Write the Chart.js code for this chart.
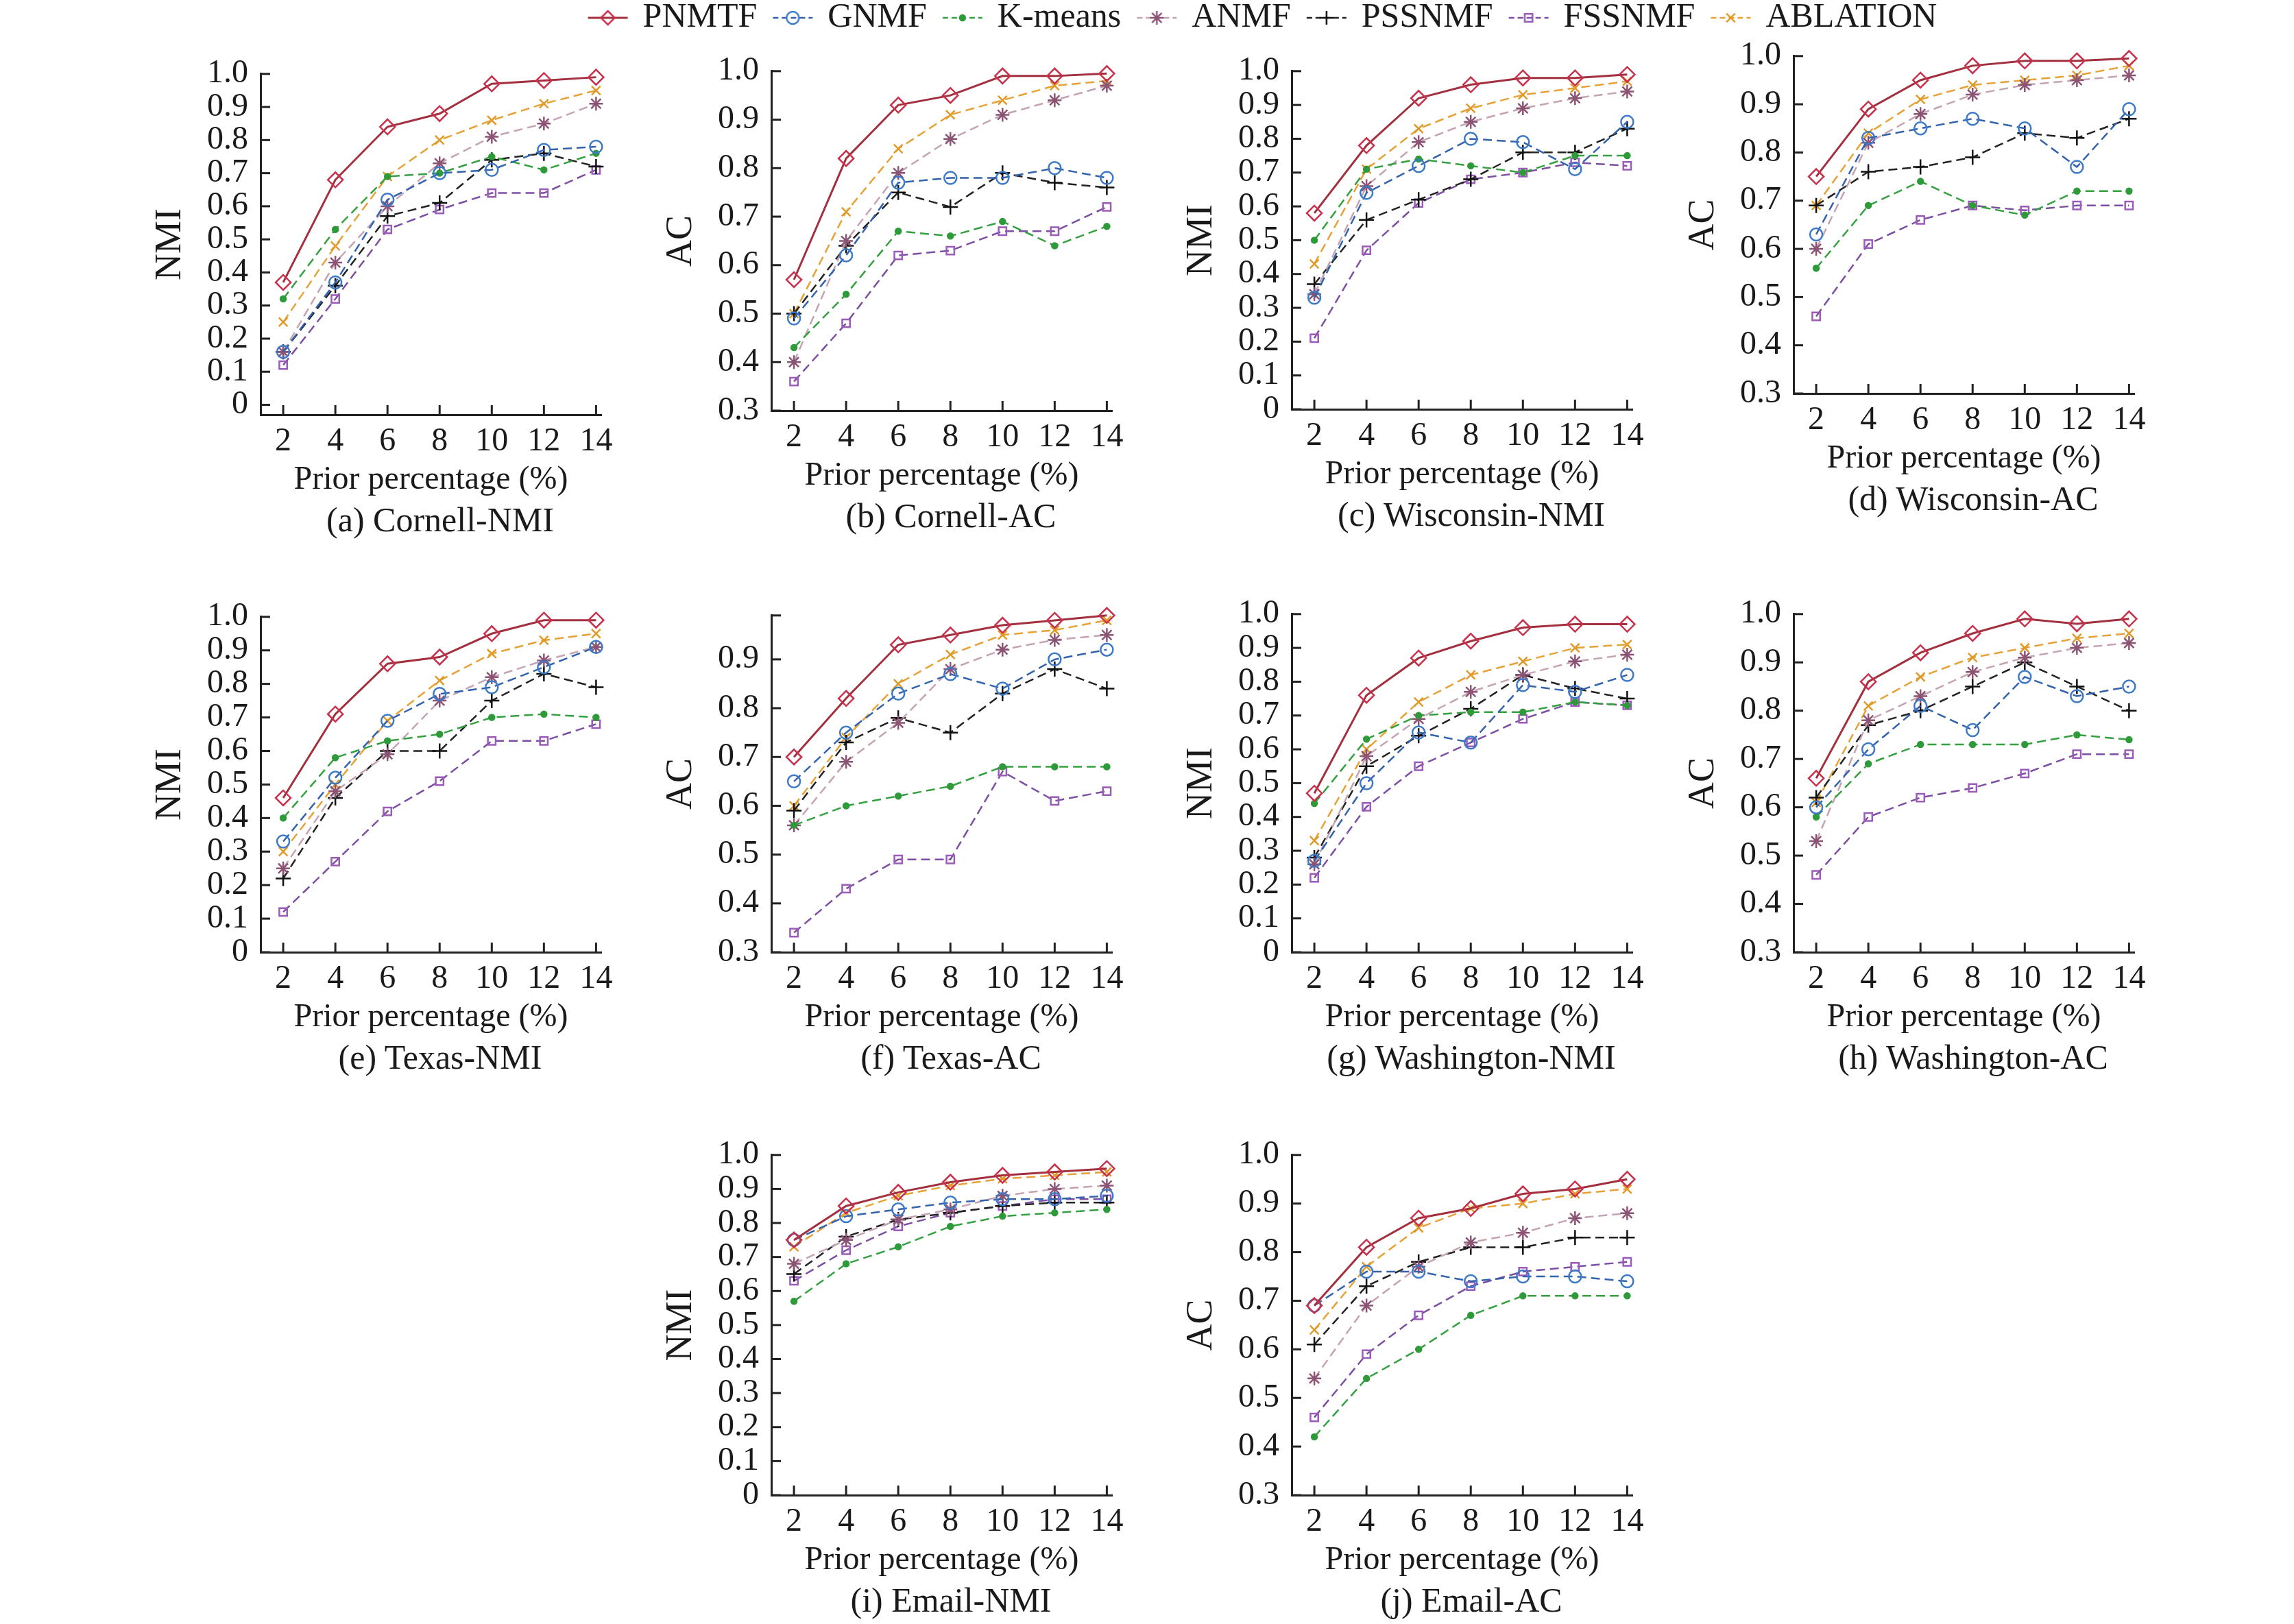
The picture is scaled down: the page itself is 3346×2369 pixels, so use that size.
<!DOCTYPE html>
<html>
<head>
<meta charset="utf-8">
<script src="https://cdn.jsdelivr.net/npm/chart.js@4.4.1/dist/chart.umd.min.js"></script>
<style>
  body { margin: 0; background: #fff; width: 3346px; height: 2369px; position: relative; overflow: hidden; }
  .box { position: absolute; }
  .cap { position: absolute; font: 50px "Liberation Serif", serif; color: #1a1a1a; transform: translate(-50%, -50%); white-space: nowrap; }
</style>
</head>
<body>
<div class="box" id="legendBox"><canvas id="legend"></canvas></div>
<script>
// x values and series names
const percentages = [2, 4, 6, 8, 10, 12, 14];
const methods = ["PNMTF", "GNMF", "K-means", "ANMF", "PSSNMF", "FSSNMF", "ABLATION"];
const nmiTicks = [0, 0.1, 0.2, 0.3, 0.4, 0.5, 0.6, 0.7, 0.8, 0.9, 1.0];
const acTicks = [0.3, 0.4, 0.5, 0.6, 0.7, 0.8, 0.9, 1.0];
const texasAcTicks = [0.3, 0.4, 0.5, 0.6, 0.7, 0.8, 0.9, 0.99];

// one row per method, in the order of `methods`
const cornellNMI = [
  [0.37, 0.68, 0.84, 0.88, 0.97, 0.98, 0.99],
  [0.16, 0.37, 0.62, 0.70, 0.71, 0.77, 0.78],
  [0.32, 0.53, 0.69, 0.70, 0.75, 0.71, 0.76],
  [0.16, 0.43, 0.60, 0.73, 0.81, 0.85, 0.91],
  [0.16, 0.36, 0.57, 0.61, 0.74, 0.76, 0.72],
  [0.12, 0.32, 0.53, 0.59, 0.64, 0.64, 0.71],
  [0.25, 0.48, 0.69, 0.80, 0.86, 0.91, 0.95]
];
const cornellAC = [
  [0.57, 0.82, 0.93, 0.95, 0.99, 0.99, 0.995],
  [0.49, 0.62, 0.77, 0.78, 0.78, 0.80, 0.78],
  [0.43, 0.54, 0.67, 0.66, 0.69, 0.64, 0.68],
  [0.40, 0.65, 0.79, 0.86, 0.91, 0.94, 0.97],
  [0.50, 0.64, 0.75, 0.72, 0.79, 0.77, 0.76],
  [0.36, 0.48, 0.62, 0.63, 0.67, 0.67, 0.72],
  [0.50, 0.71, 0.84, 0.91, 0.94, 0.97, 0.98]
];
const wisconsinNMI = [
  [0.58, 0.78, 0.92, 0.96, 0.98, 0.98, 0.99],
  [0.33, 0.64, 0.72, 0.80, 0.79, 0.71, 0.85],
  [0.50, 0.71, 0.74, 0.72, 0.70, 0.75, 0.75],
  [0.34, 0.66, 0.79, 0.85, 0.89, 0.92, 0.94],
  [0.37, 0.56, 0.62, 0.68, 0.76, 0.76, 0.83],
  [0.21, 0.47, 0.61, 0.68, 0.70, 0.73, 0.72],
  [0.43, 0.71, 0.83, 0.89, 0.93, 0.95, 0.97]
];
const wisconsinAC = [
  [0.75, 0.89, 0.95, 0.98, 0.99, 0.99, 0.995],
  [0.63, 0.83, 0.85, 0.87, 0.85, 0.77, 0.89],
  [0.56, 0.69, 0.74, 0.69, 0.67, 0.72, 0.72],
  [0.60, 0.82, 0.88, 0.92, 0.94, 0.95, 0.96],
  [0.69, 0.76, 0.77, 0.79, 0.84, 0.83, 0.87],
  [0.46, 0.61, 0.66, 0.69, 0.68, 0.69, 0.69],
  [0.69, 0.84, 0.91, 0.94, 0.95, 0.96, 0.98]
];
const texasNMI = [
  [0.46, 0.71, 0.86, 0.88, 0.95, 0.99, 0.99],
  [0.33, 0.52, 0.69, 0.77, 0.79, 0.85, 0.91],
  [0.40, 0.58, 0.63, 0.65, 0.70, 0.71, 0.70],
  [0.25, 0.48, 0.59, 0.75, 0.82, 0.87, 0.91],
  [0.22, 0.46, 0.60, 0.60, 0.75, 0.83, 0.79],
  [0.12, 0.27, 0.42, 0.51, 0.63, 0.63, 0.68],
  [0.30, 0.50, 0.69, 0.81, 0.89, 0.93, 0.95]
];
const texasAC = [
  [0.70, 0.82, 0.93, 0.95, 0.97, 0.98, 0.99],
  [0.65, 0.75, 0.83, 0.87, 0.84, 0.90, 0.92],
  [0.56, 0.60, 0.62, 0.64, 0.68, 0.68, 0.68],
  [0.56, 0.69, 0.77, 0.88, 0.92, 0.94, 0.95],
  [0.59, 0.73, 0.78, 0.75, 0.83, 0.88, 0.84],
  [0.34, 0.43, 0.49, 0.49, 0.67, 0.61, 0.63],
  [0.60, 0.74, 0.85, 0.91, 0.95, 0.96, 0.98]
];
const washingtonNMI = [
  [0.47, 0.76, 0.87, 0.92, 0.96, 0.97, 0.97],
  [0.27, 0.50, 0.65, 0.62, 0.79, 0.77, 0.82],
  [0.44, 0.63, 0.70, 0.71, 0.71, 0.74, 0.73],
  [0.26, 0.58, 0.69, 0.77, 0.82, 0.86, 0.88],
  [0.28, 0.55, 0.64, 0.72, 0.82, 0.78, 0.75],
  [0.22, 0.43, 0.55, 0.62, 0.69, 0.74, 0.73],
  [0.33, 0.60, 0.74, 0.82, 0.86, 0.90, 0.91]
];
const washingtonAC = [
  [0.66, 0.86, 0.92, 0.96, 0.99, 0.98, 0.99],
  [0.60, 0.72, 0.81, 0.76, 0.87, 0.83, 0.85],
  [0.58, 0.69, 0.73, 0.73, 0.73, 0.75, 0.74],
  [0.53, 0.78, 0.83, 0.88, 0.91, 0.93, 0.94],
  [0.62, 0.77, 0.80, 0.85, 0.90, 0.85, 0.80],
  [0.46, 0.58, 0.62, 0.64, 0.67, 0.71, 0.71],
  [0.61, 0.81, 0.87, 0.91, 0.93, 0.95, 0.96]
];
const emailNMI = [
  [0.75, 0.85, 0.89, 0.92, 0.94, 0.95, 0.96],
  [0.75, 0.82, 0.84, 0.86, 0.87, 0.87, 0.88],
  [0.57, 0.68, 0.73, 0.79, 0.82, 0.83, 0.84],
  [0.68, 0.75, 0.81, 0.84, 0.88, 0.90, 0.91],
  [0.65, 0.76, 0.81, 0.83, 0.85, 0.86, 0.86],
  [0.63, 0.72, 0.79, 0.83, 0.85, 0.87, 0.87],
  [0.73, 0.83, 0.88, 0.91, 0.93, 0.94, 0.95]
];
const emailAC = [
  [0.69, 0.81, 0.87, 0.89, 0.92, 0.93, 0.95],
  [0.69, 0.76, 0.76, 0.74, 0.75, 0.75, 0.74],
  [0.42, 0.54, 0.60, 0.67, 0.71, 0.71, 0.71],
  [0.54, 0.69, 0.77, 0.82, 0.84, 0.87, 0.88],
  [0.61, 0.73, 0.78, 0.81, 0.81, 0.83, 0.83],
  [0.46, 0.59, 0.67, 0.73, 0.76, 0.77, 0.78],
  [0.64, 0.77, 0.85, 0.89, 0.90, 0.92, 0.93]
];

const FONT = "Liberation Serif";
Chart.defaults.font.family = FONT;
Chart.defaults.color = "#1a1a1a";

const seriesStyles = [
  { line: "#a3303f", marker: "#c8304c", fill: "rgba(0,0,0,0)", point: "rectRot", radius: 11, width: 3, dash: [] },
  { line: "#3463ad", marker: "#3c7ac8", fill: "rgba(0,0,0,0)", point: "circle", radius: 9, width: 2.5, dash: [13, 7] },
  { line: "#34a040", marker: "#2e9a3a", fill: "#2e9a3a", point: "circle", radius: 4, width: 2.5, dash: [13, 7] },
  { line: "#c4a4b4", marker: "#8c5474", fill: "rgba(0,0,0,0)", point: "star", radius: 10, width: 2.5, dash: [13, 7] },
  { line: "#222222", marker: "#111111", fill: "rgba(0,0,0,0)", point: "cross", radius: 11, width: 2.5, dash: [13, 7] },
  { line: "#7d4fa3", marker: "#9a5cb8", fill: "rgba(0,0,0,0)", point: "rect", radius: 8, width: 2.5, dash: [13, 7] },
  { line: "#e6a236", marker: "#e09a28", fill: "rgba(0,0,0,0)", point: "crossRot", radius: 9, width: 2.5, dash: [13, 7] }
];

// C = centre of the caption, top = y of axis max, bottom = y of x axis
const panels = [
  { rows: cornellNMI, cap: "(a) Cornell-NMI", title: "NMI", ticks: nmiTicks, min: -0.03, max: 1, C: 642, top: 91, bottom: 605 },
  { rows: cornellAC, cap: "(b) Cornell-AC", title: "AC", ticks: acTicks, min: 0.3, max: 1, C: 1387, top: 87, bottom: 599 },
  { rows: wisconsinNMI, cap: "(c) Wisconsin-NMI", title: "NMI", ticks: nmiTicks, min: 0, max: 1, C: 2146, top: 87, bottom: 597 },
  { rows: wisconsinAC, cap: "(d) Wisconsin-AC", title: "AC", ticks: acTicks, min: 0.3, max: 1, C: 2878, top: 65, bottom: 574 },
  { rows: texasNMI, cap: "(e) Texas-NMI", title: "NMI", ticks: nmiTicks, min: 0, max: 1, C: 642, top: 883, bottom: 1389 },
  { rows: texasAC, cap: "(f) Texas-AC", title: "AC", ticks: texasAcTicks, min: 0.3, max: 0.99, C: 1387, top: 881, bottom: 1389 },
  { rows: washingtonNMI, cap: "(g) Washington-NMI", title: "NMI", ticks: nmiTicks, min: 0, max: 1, C: 2146, top: 879, bottom: 1389 },
  { rows: washingtonAC, cap: "(h) Washington-AC", title: "AC", ticks: acTicks, min: 0.3, max: 1, C: 2878, top: 879, bottom: 1389 },
  { rows: emailNMI, cap: "(i) Email-NMI", title: "NMI", ticks: nmiTicks, min: 0, max: 1, C: 1387, top: 1668, bottom: 2181 },
  { rows: emailAC, cap: "(j) Email-AC", title: "AC", ticks: acTicks, min: 0.3, max: 1, C: 2146, top: 1668, bottom: 2181 }
];

// small tick marks pointing into the plot, like the original figure
const inwardTicks = {
  id: "inwardTicks",
  afterDraw(chart) {
    const { ctx, chartArea, scales } = chart;
    ctx.save();
    ctx.strokeStyle = "#222";
    ctx.lineWidth = 3;
    scales.y.ticks.forEach((t) => {
      const py = scales.y.getPixelForValue(t.value);
      ctx.beginPath();
      ctx.moveTo(chartArea.left, py);
      ctx.lineTo(chartArea.left + 14, py);
      ctx.stroke();
    });
    scales.x.ticks.forEach((t) => {
      const px = scales.x.getPixelForValue(t.value);
      ctx.beginPath();
      ctx.moveTo(px, chartArea.bottom);
      ctx.lineTo(px, chartArea.bottom - 14);
      ctx.stroke();
    });
    ctx.restore();
  }
};

const makeDatasets = (rows) =>
  rows.map((vals, i) => {
    const s = seriesStyles[i];
    return {
      label: methods[i],
      data: percentages.map((p, k) => ({ x: p, y: vals[k] })),
      borderColor: s.line,
      borderWidth: s.width,
      borderDash: s.dash,
      pointStyle: s.point,
      pointRadius: s.radius,
      pointBorderColor: s.marker,
      pointBackgroundColor: s.fill,
      pointBorderWidth: 2.5,
      fill: false,
      tension: 0,
      clip: false
    };
  });

const Y_W = 190;
const X_H = 131;

const drawPanel = (p) => {
  const axisX = p.C - 262;
  const right = p.C + 235;
  const box = document.createElement("div");
  box.className = "box";
  box.style.left = axisX - Y_W + "px";
  box.style.top = p.top - 30 + "px";
  box.style.width = right - axisX + Y_W + 30 + "px";
  box.style.height = p.bottom - p.top + 30 + X_H + "px";
  const canvas = document.createElement("canvas");
  box.appendChild(canvas);
  document.body.appendChild(box);

  const cap = document.createElement("div");
  cap.className = "cap";
  cap.style.left = p.C + "px";
  cap.style.top = p.bottom + 153 + "px";
  cap.textContent = p.cap;
  document.body.appendChild(cap);

  new Chart(canvas, {
    type: "line",
    data: { datasets: makeDatasets(p.rows) },
    options: {
      responsive: true,
      maintainAspectRatio: false,
      animation: false,
      layout: { padding: { top: 30, right: 30, left: 0, bottom: 0 } },
      plugins: { legend: { display: false }, tooltip: { enabled: false } },
      scales: {
        x: {
          type: "linear",
          min: 1.13,
          max: 14.2,
          afterBuildTicks: (scale) => {
            scale.ticks = percentages.map((v) => ({ value: v }));
          },
          afterFit: (scale) => {
            scale.height = X_H;
          },
          grid: { display: false, drawTicks: false },
          border: { display: true, color: "#222", width: 3 },
          ticks: { font: { size: 48 }, padding: 11, maxRotation: 0, autoSkip: false },
          title: { display: true, text: "Prior percentage (%)", font: { size: 48 }, padding: { top: 0, bottom: 7 } }
        },
        y: {
          min: p.min,
          max: p.max,
          afterBuildTicks: (scale) => {
            scale.ticks = p.ticks.map((v) => ({ value: v }));
          },
          afterFit: (scale) => {
            scale.width = Y_W;
          },
          grid: { display: false, drawTicks: false },
          border: { display: true, color: "#222", width: 3 },
          ticks: {
            font: { size: 48 },
            padding: 18,
            autoSkip: false,
            callback: (v) => (v === 0 ? "0" : v > 0.985 && v < 0.995 ? "" : v.toFixed(1))
          },
          title: { display: true, text: p.title, font: { size: 54 }, padding: { top: 26, bottom: 0 } }
        }
      }
    },
    plugins: [inwardTicks]
  });
};

panels.forEach(drawPanel);

// legend across the top: short line with the marker in the middle
const legendIcon = (s) => {
  const c = document.createElement("canvas");
  c.width = 62;
  c.height = 30;
  const ctx = c.getContext("2d");
  ctx.strokeStyle = s.line;
  ctx.lineWidth = s.width;
  ctx.setLineDash(s.dash.length ? [8, 5] : []);
  ctx.beginPath();
  ctx.moveTo(2, 15);
  ctx.lineTo(60, 15);
  ctx.stroke();
  ctx.setLineDash([]);
  ctx.strokeStyle = s.marker;
  ctx.fillStyle = s.fill;
  ctx.lineWidth = 2.5;
  Chart.helpers.drawPoint(ctx, { pointStyle: s.point, radius: Math.min(s.radius, 10), rotation: 0, borderWidth: 2.5 }, 31, 15);
  return c;
};

// the legend box gets at most half the chart height, so the canvas is tall
const legendBox = document.getElementById("legendBox");
legendBox.style.left = "340px";
legendBox.style.top = "-25px";
legendBox.style.width = "3006px";
legendBox.style.height = "300px";

new Chart(document.getElementById("legend"), {
  type: "line",
  data: { datasets: methods.map((m) => ({ label: m, data: [] })) },
  options: {
    responsive: true,
    maintainAspectRatio: false,
    animation: false,
    scales: { x: { display: false }, y: { display: false } },
    plugins: {
      tooltip: { enabled: false },
      legend: {
        display: true,
        position: "top",
        labels: {
          usePointStyle: true,
          pointStyleWidth: 52,
          padding: 26,
          color: "#1a1a1a",
          font: { size: 50 },
          generateLabels: () =>
            methods.map((m, i) => ({
              text: m,
              pointStyle: legendIcon(seriesStyles[i]),
              datasetIndex: i,
              hidden: false,
              lineWidth: 0,
              fontColor: "#1a1a1a"
            }))
        }
      }
    }
  }
});
</script>
</body>
</html>
